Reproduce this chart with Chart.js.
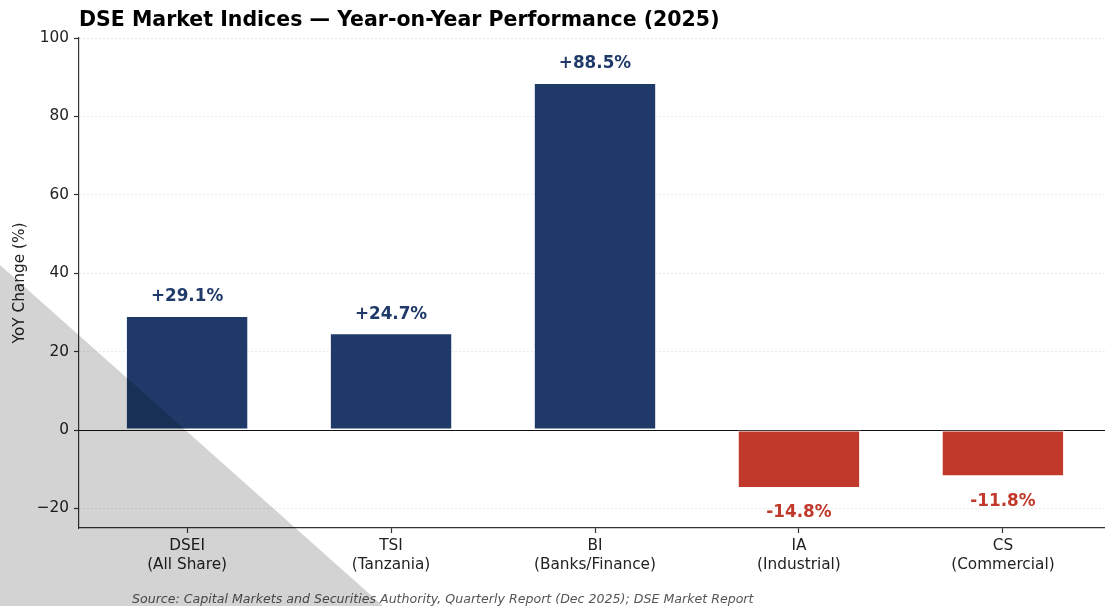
<!DOCTYPE html>
<html>
<head>
<meta charset="utf-8">
<script src="https://cdn.jsdelivr.net/npm/chart.js@4/dist/chart.umd.min.js"></script>
<style>
  html, body { margin: 0; padding: 0; background: #fff; overflow: hidden; }
  #wrap { position: relative; width: 1105px; height: 606px; overflow: hidden; }
  #chart { position: absolute; left: 0; top: 0; }
  #shade {
    position: absolute; left: 0; top: 0; width: 1105px; height: 606px;
    background: rgba(0, 0, 0, 0.173);
    clip-path: polygon(0 265px, 383px 606px, 0 606px);
    pointer-events: none;
  }
</style>
</head>
<body>
<div id="wrap">
  <canvas id="chart" width="1111" height="606"></canvas>
  <div id="shade"></div>
</div>
<script>
// YoY change of the DSE indices, 2025
const indexCodes = ['DSEI', 'TSI', 'BI', 'IA', 'CS'];
const indexNames = ['(All Share)', '(Tanzania)', '(Banks/Finance)', '(Industrial)', '(Commercial)'];
const yoyChange = [29.1, 24.7, 88.5, -14.8, -11.8];
const yTicks = [-20, 0, 20, 40, 60, 80, 100];

const chartTitle = 'DSE Market Indices \u2014 Year-on-Year Performance (2025)';
const sourceNote = 'Source: Capital Markets and Securities Authority, Quarterly Report (Dec 2025); DSE Market Report';

const NAVY = '#1f3a68';
const RED = '#c0392b';
const FONT = "'DejaVu Sans', sans-serif";

function colorFor(v) {
  return v >= 0 ? NAVY : RED;
}

// title, zero line, value labels and footnote
const decorations = {
  id: 'decorations',
  beforeDatasetsDraw(chart) {
    const ctx = chart.ctx;
    const area = chart.chartArea;
    const y0 = Math.round(chart.scales.y.getPixelForValue(0)) + 0.5;
    ctx.save();
    ctx.strokeStyle = '#111';
    ctx.lineWidth = 1;
    ctx.beginPath();
    ctx.moveTo(area.left, y0);
    ctx.lineTo(area.right, y0);
    ctx.stroke();
    ctx.restore();
  },
  afterDatasetsDraw(chart) {
    const ctx = chart.ctx;
    const area = chart.chartArea;
    const meta = chart.getDatasetMeta(0);
    ctx.save();
    ctx.font = 'bold 16.8px ' + FONT;
    ctx.textAlign = 'center';
    ctx.textBaseline = 'middle';
    meta.data.forEach((bar, i) => {
      const v = yoyChange[i];
      const text = (v > 0 ? '+' : '') + v.toFixed(1) + '%';
      ctx.fillStyle = colorFor(v);
      ctx.fillText(text, bar.x, v >= 0 ? bar.y - 19 : bar.y + 25);
    });

    ctx.fillStyle = '#000';
    ctx.textAlign = 'left';
    ctx.font = 'bold 20.5px ' + FONT;
    ctx.fillText(chartTitle, area.left, 21);

    ctx.fillStyle = '#555';
    ctx.font = 'italic 12.6px ' + FONT;
    ctx.fillText(sourceNote, 132, 600);
    ctx.restore();
  }
};

new Chart(document.getElementById('chart').getContext('2d'), {
  type: 'bar',
  data: {
    datasets: [{
      data: yoyChange.map((v, i) => ({ x: i, y: v })),
      backgroundColor: yoyChange.map(colorFor),
      borderColor: 'rgba(255,255,255,0.8)',
      borderWidth: 1,
      borderSkipped: false,
      barPercentage: 0.6,
      categoryPercentage: 1.0
    }]
  },
  options: {
    responsive: false,
    animation: false,
    devicePixelRatio: 1,
    layout: { padding: { top: 38, right: 0, bottom: 0, left: 0 } },
    plugins: {
      legend: { display: false },
      tooltip: { enabled: false }
    },
    scales: {
      x: {
        type: 'linear',
        min: -0.53,
        max: 4.53,
        offset: false,
        afterBuildTicks: axis => { axis.ticks = indexCodes.map((c, i) => ({ value: i })); },
        afterFit: axis => { axis.height = 78; },
        ticks: {
          autoSkip: false,
          maxRotation: 0,
          padding: 3,
          color: '#222',
          font: { family: FONT, size: 15.3, lineHeight: 1.25 },
          callback: value => [indexCodes[value], indexNames[value]]
        },
        grid: {
          offset: false,
          drawOnChartArea: false,
          drawTicks: true,
          tickLength: 5,
          tickColor: '#333',
          tickWidth: 1.2
        },
        border: { display: true, color: '#333', width: 1.2 }
      },
      y: {
        min: -25,
        max: 100,
        afterBuildTicks: axis => { axis.ticks = yTicks.map(v => ({ value: v })); },
        afterFit: axis => { axis.width = 79; },
        ticks: {
          padding: 5,
          color: '#222',
          font: { family: FONT, size: 15.3 },
          callback: v => (v < 0 ? '\u2212' + Math.abs(v) : String(v))
        },
        grid: {
          color: '#dcdcdc',
          lineWidth: 0.8,
          drawTicks: true,
          tickLength: 5,
          tickColor: '#333',
          tickWidth: 1.2,
          tickBorderDash: []
        },
        border: { display: true, color: '#333', width: 1.2, dash: [1.5, 2.5] },
        title: {
          display: true,
          text: 'YoY Change (%)',
          color: '#222',
          font: { family: FONT, size: 15.3 },
          padding: { top: 11, bottom: 0 }
        }
      }
    }
  },
  plugins: [decorations]
});
</script>
</body>
</html>
